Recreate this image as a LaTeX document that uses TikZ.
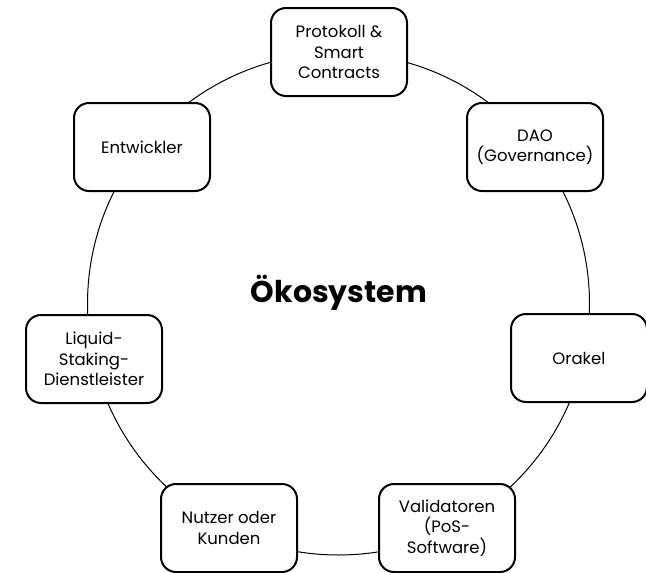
\documentclass[tikz,border=0pt]{standalone}
\usepackage{fontspec}
\setmainfont{Poppins}
\begin{document}
\begin{tikzpicture}[x=1pt,y=-1pt,
  box/.style={draw=black,line width=2pt,rounded corners=15pt,fill=white,
    minimum width=136pt,minimum height=88pt,align=center,
    font=\fontsize{16.5}{20.5}\selectfont,inner sep=2pt}]
\useasboundingbox (0,0) rectangle (646,573);
\coordinate (c) at (338.5,304);
\draw[line width=1pt] (c) circle[radius=251];
\node[box] (proto) at (339,52) {Protokoll \&\\Smart\\Contracts};
\node[box] (dao) at (535,147) {DAO\\(Governance)};
\node[box] (orakel) at (579,358) {Orakel};
\node[box] (valid) at (447,528) {Validatoren\\(PoS-\\Software)};
\node[box] (nutzer) at (229,528) {Nutzer oder\\Kunden};
\node[box] (liquid) at (94,359) {Liquid-\\Staking-\\Dienstleister};
\node[box] (entw) at (142,147) {Entwickler};
\node[font=\fontsize{30}{34}\selectfont\bfseries] (oko) at (339,293) {Ökosystem};
\end{tikzpicture}
\end{document}
